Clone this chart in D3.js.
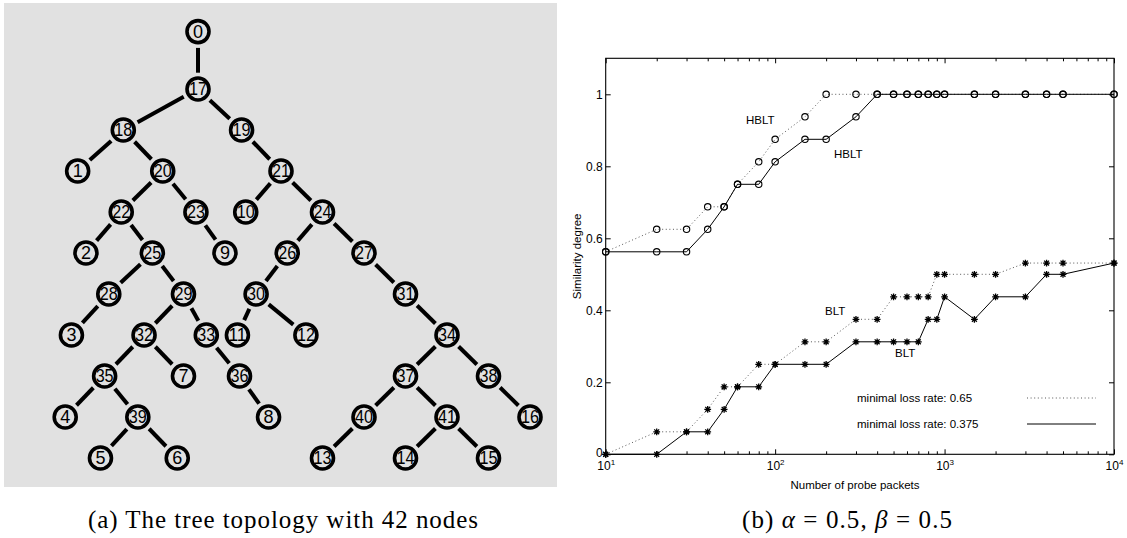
<!DOCTYPE html>
<html>
<head>
<meta charset="utf-8">
<script src="https://cdn.jsdelivr.net/npm/d3@7"></script>
<style>
  html, body { margin: 0; padding: 0; background: #fff; }
  svg { display: block; }
</style>
</head>
<body>
<script>
// ---------- (a) tree topology: node id, parent id, column and level in the drawing grid ----------
const nodeIds    = [0, 17, 18, 19, 1, 20, 21, 22, 23, 10, 24, 2, 25, 9, 26, 27, 28, 29, 30, 31, 3, 32, 33, 11, 12, 34, 35, 7, 36, 37, 38, 4, 39, 8, 40, 41, 16, 5, 6, 13, 14, 15];
const nodeParent = [null, 0, 17, 17, 18, 18, 19, 20, 20, 21, 21, 22, 22, 23, 24, 24, 25, 25, 26, 27, 28, 29, 29, 30, 30, 31, 32, 32, 33, 34, 34, 35, 35, 36, 37, 37, 38, 39, 39, 40, 41, 41];
const nodeColumn = [0, 0, -1.8, 1.05, -2.9, -0.85, 2.0, -1.85, -0.05, 1.15, 3.0, -2.7, -1.1, 0.65, 2.15, 4.0, -2.15, -0.35, 1.4, 5.0, -3.05, -1.3, 0.2, 0.95, 2.6, 6.0, -2.25, -0.35, 1.0, 5.0, 7.0, -3.2, -1.45, 1.7, 4.0, 6.0, 8.0, -2.35, -0.5, 3.0, 5.0, 7.0];
const nodeLevel  = [-0.4, 1, 2, 2, 3, 3, 3, 4, 4, 4, 4, 5, 5, 5, 5, 5, 6, 6, 6, 6, 7, 7, 7, 7, 7, 7, 8, 8, 8, 8, 8, 9, 9, 9, 9, 9, 9, 10, 10, 10, 10, 10];

// ---------- (b) similarity degree vs. number of probe packets ----------
const probePackets = [10, 20, 30, 40, 50, 60, 80, 100, 150, 200, 300, 400, 500, 600, 700, 800, 900, 1000, 1500, 2000, 3000, 4000, 5000, 10000];
const hbltLoss065  = [0.5625, 0.625, 0.625, 0.6875, 0.6875, 0.75, 0.8125, 0.875, 0.9375, 1, 1, 1, 1, 1, 1, 1, 1, 1, 1, 1, 1, 1, 1, 1];
const hbltLoss0375 = [0.5625, 0.5625, 0.5625, 0.625, 0.6875, 0.75, 0.75, 0.8125, 0.875, 0.875, 0.9375, 1, 1, 1, 1, 1, 1, 1, 1, 1, 1, 1, 1, 1];
const bltLoss065   = [0, 0.0625, 0.0625, 0.125, 0.1875, 0.1875, 0.25, 0.25, 0.3125, 0.3125, 0.375, 0.375, 0.4375, 0.4375, 0.4375, 0.4375, 0.5, 0.5, 0.5, 0.5, 0.53125, 0.53125, 0.53125, 0.53125];
const bltLoss0375  = [0, 0, 0.0625, 0.0625, 0.125, 0.1875, 0.1875, 0.25, 0.25, 0.25, 0.3125, 0.3125, 0.3125, 0.3125, 0.3125, 0.375, 0.375, 0.4375, 0.375, 0.4375, 0.4375, 0.5, 0.5, 0.53125];

const xMajorTicks = [10, 100, 1000, 10000];
const yTicks = [0, 0.2, 0.4, 0.6, 0.8, 1];
const yTickLabels = ["0", "0.2", "0.4", "0.6", "0.8", "1"];
const legendLabels = ["minimal loss rate: 0.65", "minimal loss rate: 0.375"];

const W = 1127, H = 538;
const svg = d3.select("body").append("svg").attr("width", W).attr("height", H);
svg.append("rect").attr("width", W).attr("height", H).attr("fill", "#fff");

// ================= (a) tree =================
const tree = svg.append("g");
tree.append("rect").attr("x", 4).attr("y", 3).attr("width", 553).attr("height", 484).attr("fill", "#e1e1e1");

const gx = d3.scaleLinear().domain([0, 8]).range([198, 530]);
const gy = d3.scaleLinear().domain([1, 10]).range([89, 458]);

const nodes = nodeIds.map((id, i) => ({ id, parent: nodeParent[i], x: gx(nodeColumn[i]), y: gy(nodeLevel[i]) }));
const byId = new Map(nodes.map(n => [n.id, n]));
const R = 11, RING = 3.6, GAP = 3.5;

const links = nodes.filter(n => n.parent !== null).map(n => ({ s: byId.get(n.parent), t: n }));
tree.selectAll("line.edge").data(links).join("line")
  .attr("class", "edge")
  .each(function (d) {
    const dx = d.t.x - d.s.x, dy = d.t.y - d.s.y, L = Math.hypot(dx, dy);
    const off = R + RING / 2 + GAP;
    d3.select(this)
      .attr("x1", d.s.x + dx / L * off).attr("y1", d.s.y + dy / L * off)
      .attr("x2", d.t.x - dx / L * off).attr("y2", d.t.y - dy / L * off);
  })
  .attr("stroke", "#000").attr("stroke-width", 4);

const nodeG = tree.selectAll("g.node").data(nodes).join("g")
  .attr("class", "node")
  .attr("transform", d => `translate(${d.x},${d.y})`);
nodeG.append("circle").attr("r", R).attr("fill", "#e1e1e1").attr("stroke", "#000").attr("stroke-width", RING);
nodeG.append("text")
  .attr("text-anchor", "middle").attr("dy", "0.36em")
  .attr("font-family", "Liberation Sans, Arial, sans-serif").attr("font-size", 18)
  .attr("fill", "#000")
  .each(function (d) {
    const t = d3.select(this).text(d.id);
    if (String(d.id).length > 1) t.attr("textLength", 18).attr("lengthAdjust", "spacingAndGlyphs");
  });

svg.append("text")
  .attr("x", 283).attr("y", 528).attr("text-anchor", "middle")
  .attr("font-family", "Liberation Serif, Times New Roman, serif").attr("font-size", 25)
  .attr("textLength", 390).attr("lengthAdjust", "spacing")
  .text("(a) The tree topology with 42 nodes");

// ================= (b) line chart =================
const pLeft = 605.7, pRight = 1114, pTop = 58.3, pBottom = 454.3;
const x = d3.scaleLog().domain([10, 10000]).range([pLeft, pRight]);
const y = d3.scaleLinear().domain([0, 1.1]).range([pBottom, pTop]);
const font = "Liberation Sans, Arial, Helvetica, sans-serif";
const chart = svg.append("g");

const minorTicks = x.ticks().filter(v => !xMajorTicks.includes(v));

function styleAxis(g) {
  g.select(".domain").remove();
  g.selectAll(".tick line").attr("stroke", "#000").attr("stroke-width", 1);
  g.selectAll("text").attr("font-family", font).attr("font-size", 12).attr("fill", "#000");
}

// bottom axis: major ticks with power-of-ten labels, then minor ticks
const xb = chart.append("g").attr("transform", `translate(0,${pBottom})`)
  .call(d3.axisBottom(x).tickValues(xMajorTicks).tickSize(-5).tickFormat(() => ""));
styleAxis(xb);
xb.selectAll(".tick text").each(function (v) {
  const t = d3.select(this).attr("dy", null).attr("y", 16);
  t.append("tspan").text("10");
  t.append("tspan").attr("dy", -5).attr("font-size", 8).text(Math.round(Math.log10(v)));
});
styleAxis(chart.append("g").attr("transform", `translate(0,${pBottom})`)
  .call(d3.axisBottom(x).tickValues(minorTicks).tickSize(-3).tickFormat(() => "")));
styleAxis(chart.append("g").attr("transform", `translate(0,${pTop})`)
  .call(d3.axisTop(x).tickValues(xMajorTicks).tickSize(-5).tickFormat(() => "")));
styleAxis(chart.append("g").attr("transform", `translate(0,${pTop})`)
  .call(d3.axisTop(x).tickValues(minorTicks).tickSize(-3).tickFormat(() => "")));

const yl = chart.append("g").attr("transform", `translate(${pLeft},0)`)
  .call(d3.axisLeft(y).tickValues(yTicks).tickSize(-5).tickPadding(3).tickFormat((d, i) => yTickLabels[i]));
styleAxis(yl);
// the zero label sits a touch higher so it clears the 10^1 label below it
yl.selectAll(".tick text").filter(d => d === 0).attr("dy", "0.2em");
styleAxis(chart.append("g").attr("transform", `translate(${pRight},0)`)
  .call(d3.axisRight(y).tickValues(yTicks).tickSize(-5).tickFormat(() => "")));

// plot frame
chart.append("rect").attr("x", pLeft).attr("y", pTop).attr("width", pRight - pLeft).attr("height", pBottom - pTop)
  .attr("fill", "none").attr("stroke", "#000").attr("stroke-width", 1.1);

// axis titles
chart.append("text").attr("x", 855).attr("y", 489).attr("text-anchor", "middle")
  .attr("font-family", font).attr("font-size", 11.5).text("Number of probe packets");
chart.append("text").attr("transform", `translate(581,${(pTop + pBottom) / 2}) rotate(-90)`)
  .attr("text-anchor", "middle").attr("font-family", font).attr("font-size", 11.5).text("Similarity degree");

// series
const dotted = { stroke: "#444", width: 0.9, dash: "1,2.6" };
const solid = { stroke: "#000", width: 1, dash: null };
const series = [
  { values: hbltLoss065, style: dotted, marker: "circle" },
  { values: hbltLoss0375, style: solid, marker: "circle" },
  { values: bltLoss065, style: dotted, marker: "star" },
  { values: bltLoss0375, style: solid, marker: "star" }
];
const line = d3.line().x(d => x(d[0])).y(d => y(d[1]));

function starPath(s) {
  const d = s * 0.72;
  return `M${-s},0L${s},0M0,${-s}L0,${s}M${-d},${-d}L${d},${d}M${-d},${d}L${d},${-d}`;
}

series.forEach(sr => {
  const pts = probePackets.map((p, i) => [p, sr.values[i]]);
  chart.append("path").datum(pts).attr("d", line).attr("fill", "none")
    .attr("stroke", sr.style.stroke).attr("stroke-width", sr.style.width)
    .attr("stroke-dasharray", sr.style.dash);
  const m = chart.append("g").selectAll("g").data(pts).join("g")
    .attr("transform", d => `translate(${x(d[0])},${y(d[1])})`);
  if (sr.marker === "circle") {
    m.append("circle").attr("r", 3.2).attr("fill", "none").attr("stroke", "#000").attr("stroke-width", 1.1);
  } else {
    m.append("path").attr("d", starPath(3.4)).attr("stroke", "#000").attr("stroke-width", 1.3);
  }
});

// curve labels
const curveLabels = [
  { text: "HBLT", px: 746, py: 124 },
  { text: "HBLT", px: 834, py: 158 },
  { text: "BLT", px: 825, py: 315 },
  { text: "BLT", px: 895, py: 357 }
];
chart.selectAll("text.curve").data(curveLabels).join("text")
  .attr("class", "curve").attr("x", d => d.px).attr("y", d => d.py)
  .attr("font-family", font).attr("font-size", 11.5).text(d => d.text);

// legend
const legend = chart.append("g");
[dotted, solid].forEach((st, i) => {
  const ly = 398 + i * 26;
  legend.append("text").attr("x", 857).attr("y", ly + 4).attr("font-family", font).attr("font-size", 11.5).text(legendLabels[i]);
  legend.append("line").attr("x1", 1027).attr("x2", 1096).attr("y1", ly).attr("y2", ly)
    .attr("stroke", st.stroke).attr("stroke-width", st.width).attr("stroke-dasharray", st.dash);
});

// caption (b)
const cap = svg.append("text").attr("x", 847).attr("y", 528).attr("text-anchor", "middle")
  .attr("font-family", "Liberation Serif, Times New Roman, serif").attr("font-size", 25)
  .attr("textLength", 210).attr("lengthAdjust", "spacing");
cap.append("tspan").text("(b) ");
cap.append("tspan").attr("font-style", "italic").text("α");
cap.append("tspan").text(" = 0.5, ");
cap.append("tspan").attr("font-style", "italic").text("β");
cap.append("tspan").text(" = 0.5");
</script>
</body>
</html>
